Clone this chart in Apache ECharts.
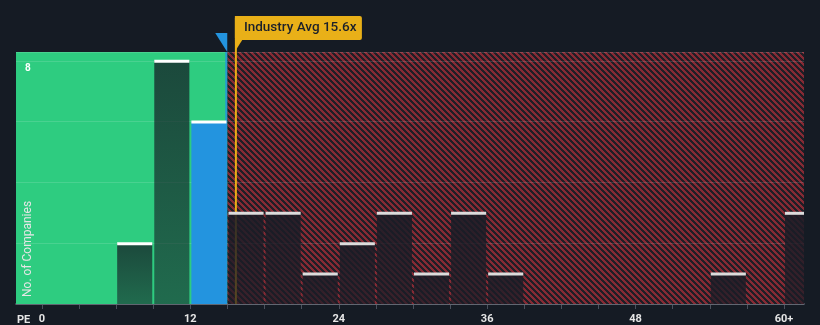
<!DOCTYPE html>
<html><head><meta charset="utf-8">
<script src="https://cdn.jsdelivr.net/npm/echarts@6/dist/echarts.min.js"></script>
<style>html,body{margin:0;padding:0;background:#151b24;}#c{width:820px;height:325px;}</style>
</head><body><div id="c"></div>
<script>
// ---- data ----
const binStarts = [0,3,6,9,12,15,18,21,24,27,30,33,36,39,42,45,48,51,54,57,60];
const counts    = [0,0,2,8,6,3,3,1,2,3,1,3,1,0,0,0,0,0,1,0,3];
const binWidth = 3;
const xLabelValues = [0,12,24,36,48,60];
const xTickValues = [0,3,6,9,12,15,18,21,24,27,30,33,36,39,42,45,48,51,54,57,60];
const yLabelValues = [8];
const industryAvg = 15.6;
const industryLabel = 'Industry Avg 15.6x';
const companyPE = 14.9;
const fairLimit = 15;
const xMin = -2.1, xMax = 61.62, yMax = 8.29;

// ---- hatch pattern ----
const hatch = document.createElement('canvas');
hatch.width = 6; hatch.height = 6;
(function(){
  const ctx = hatch.getContext('2d');
  const img = ctx.createImageData(6,6);
  for (let y=0;y<6;y++) for (let x=0;x<6;x++){
    const i=(y*6+x)*4;
    const red = (((x - y) % 6) + 6) % 6 < 3;
    const c = red ? [134,42,52] : [32,30,38];
    img.data[i]=c[0]; img.data[i+1]=c[1]; img.data[i+2]=c[2]; img.data[i+3]=255;
  }
  ctx.putImageData(img,0,0);
})();

const FONT = 'Roboto, "Noto Sans", sans-serif';
const chart = echarts.init(document.getElementById('c'), null, {renderer:'canvas'});
const barData = binStarts.map((s,i)=>[s, counts[i]]);

chart.setOption({
  backgroundColor: '#151b24',
  animation: false,
  grid: {left:16, right:16, top:52, bottom:21},
  xAxis: {
    type:'value', min:xMin, max:xMax,
    axisLine:{show:true, lineStyle:{color:'#4a505c', width:2}},
    axisTick:{show:true, customValues:xTickValues, length:5, lineStyle:{color:'#4a505c', width:1}},
    axisLabel:{customValues:xLabelValues, color:'#e6e6e6', fontSize:11, fontWeight:'bold', fontFamily:FONT, margin:10,
      formatter: v => v===60 ? '60+' : String(v)},
    splitLine:{show:false}
  },
  yAxis: {
    type:'value', min:0, max:yMax, interval:2, z:2,
    axisLine:{show:false}, axisTick:{show:false},
    axisLabel:{inside:true, margin:9, color:'#ffffff', fontSize:10, fontWeight:'bold', fontFamily:FONT,
      verticalAlign:'top', padding:[3,0,0,0],
      formatter: v => yLabelValues.indexOf(v)>=0 ? String(v) : ''},
    splitLine:{show:true, lineStyle:{color:'rgba(255,255,255,0.13)', width:1}}
  },
  series: [
    {
      type:'custom', z:1, silent:true, data:[],
      renderItem: ()=>null,
      markArea:{silent:true, data:[
        [{xAxis:xMin, itemStyle:{color:'#2ecc80'}}, {xAxis:fairLimit}],
        [{xAxis:fairLimit, itemStyle:{color:{image:hatch, repeat:'repeat'}}}, {xAxis:xMax}]
      ]}
    },
    {
      type:'custom', z:3, silent:true, data:barData,
      renderItem: function(params, api){
        const x0 = api.value(0), v = api.value(1);
        if (!v) return null;
        const x1 = x0 + binWidth;
        const pTop = api.coord([x0, v]);
        const pBot = api.coord([x1, 0]);
        const cs = params.coordSys;
        const left = pTop[0] + 1;
        const right = Math.min(pBot[0] - 1, cs.x + cs.width);
        const top = pTop[1], bottom = pBot[1];
        const isCompany = x0 <= companyPE && companyPE < x1;
        const inGreen = x1 <= fairLimit;
        let fill, lineColor;
        if (isCompany) { fill = '#2394df'; lineColor = '#ffffff'; }
        else if (inGreen) {
          fill = new echarts.graphic.LinearGradient(0,0,0,1,[
            {offset:0, color:'rgba(21,27,36,0.74)'},{offset:1, color:'rgba(21,27,36,0.55)'}]);
          lineColor = '#ffffff';
        } else {
          fill = new echarts.graphic.LinearGradient(0,0,0,1,[
            {offset:0, color:'rgba(26,28,38,0.88)'},{offset:1, color:'rgba(26,28,38,0.7)'}]);
          lineColor = '#dcdcdc';
        }
        return {type:'group', children:[
          {type:'rect', shape:{x:left, y:top, width:right-left, height:bottom-top}, style:{fill:fill}},
          {type:'rect', shape:{x:left, y:top-1, width:right-left, height:3}, style:{fill:lineColor}}
        ]};
      }
    }
  ]
});

// overlays positioned from the axis scales
const rect = chart.getModel().getComponent('grid').coordinateSystem.getRect();
const ox = chart.convertToPixel({xAxisIndex:0}, industryAvg);
const cx = chart.convertToPixel({xAxisIndex:0}, companyPE);
const plotTop = rect.y, plotBot = rect.y + rect.height;
chart.setOption({graphic:[
  {type:'line', z:2, silent:true, shape:{x1:cx, y1:plotTop, x2:cx, y2:plotBot}, style:{stroke:'rgba(35,148,223,0.85)', lineWidth:2}},
  {type:'polygon', z:10, silent:true, shape:{points:[[cx-11,33],[cx+1,33],[cx+1,plotTop]]}, style:{fill:'#2394df'}},
  {type:'line', z:2, silent:true, shape:{x1:ox+1, y1:16, x2:ox+1, y2:plotBot}, style:{stroke:'#e9ae17', lineWidth:2}},
  {type:'rect', z:10, silent:true, shape:{x:ox, y:16, width:127, height:24, r:2}, style:{fill:'#e9b018'}},
  {type:'polygon', z:10, silent:true, shape:{points:[[ox,39],[ox+8,39],[ox+1,50]]}, style:{fill:'#e9b018'}},
  {type:'text', z:11, silent:true, x:ox+9, y:28, style:{text:industryLabel, fill:'#1b202b', font:'500 13.5px '+FONT, verticalAlign:'middle', align:'left'}},
  {type:'text', z:11, silent:true, x:17, y:320, style:{text:'PE', fill:'#e6e6e6', font:'bold 11px '+FONT, verticalAlign:'middle', align:'left'}},
  {type:'text', z:11, silent:true, x:28, y:297, rotation:Math.PI/2, style:{text:'No. of Companies', fill:'#e6e6e6', font:'12px '+FONT, verticalAlign:'middle', align:'left'}}
]});
</script>
</body></html>
